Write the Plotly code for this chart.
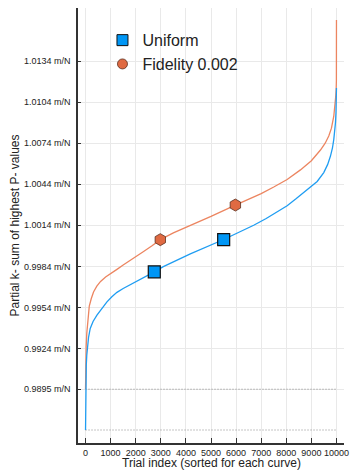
import plotly.graph_objects as go

# Sorted partial k-sums per trial (sampled along the sorted index)
uniform_idx = [0, 3, 8, 18, 30, 50, 70, 120, 187, 300, 455, 650, 854, 1050, 1252,
               1500, 1783, 2100, 2449, 2740, 3100, 3500, 4176, 5505, 6000, 6438,
               6701, 7200, 7766, 8034, 8400, 8831, 9231, 9494, 9650, 9761, 9840,
               9893, 9935, 9960, 9980, 9993, 10000]
uniform_val = [0.98644, 0.98850, 0.98950, 0.99050, 0.99120, 0.99190, 0.99240,
               0.99320, 0.99386, 0.99437, 0.99483, 0.99535, 0.99580, 0.99618,
               0.99650, 0.99678, 0.99705, 0.99735, 0.99768, 0.99800, 0.99838,
               0.99872, 0.99931, 1.00036, 1.00078, 1.00115, 1.00140, 1.00190,
               1.00250, 1.00283, 1.00335, 1.00400, 1.00460, 1.00525, 1.00585,
               1.00646, 1.00705, 1.00768, 1.00830, 1.00889, 1.00960, 1.01050,
               1.01144]

fidelity_idx = [0, 3, 10, 25, 50, 90, 150, 230, 319, 450, 600, 800, 1000, 1252,
                1500, 1783, 2050, 2314, 2650, 2980, 3500, 4176, 5000, 5971, 6500,
                7000, 7500, 8034, 8564, 9000, 9362, 9550, 9693, 9800, 9893, 9940,
                9970, 9987, 9997, 10000]
fidelity_val = [0.98942, 0.99050, 0.99150, 0.99250, 0.99350, 0.99450, 0.99550,
                0.99605, 0.99653, 0.99695, 0.99730, 0.99762, 0.99785, 0.99818,
                0.99850, 0.99882, 0.99915, 0.99948, 0.99990, 1.00035, 1.00085,
                1.00137, 1.00205, 1.00288, 1.00330, 1.00372, 1.00420, 1.00475,
                1.00545, 1.00612, 1.00690, 1.00740, 1.00792, 1.00850, 1.00937,
                1.01010, 1.01080, 1.01131, 1.01200, 1.01640]

# Highlighted trials on each curve
uniform_mark_idx = [2740, 5505]
uniform_mark_val = [0.99800, 1.00036]
fidelity_mark_idx = [2980, 5971]
fidelity_mark_val = [1.00035, 1.00288]

# Minimum of each curve (dotted reference lines)
min_levels = [0.98942, 0.98644]

y_tickvals = [0.98942, 0.9924, 0.9954, 0.9984, 1.0014, 1.0044, 1.0074, 1.0104, 1.0134]
y_ticktext = ["0.9895 m/N", "0.9924 m/N", "0.9954 m/N", "0.9984 m/N", "1.0014 m/N",
              "1.0044 m/N", "1.0074 m/N", "1.0104 m/N", "1.0134 m/N"]
x_tickvals = list(range(0, 10001, 1000))
x_ticktext = [str(v) for v in x_tickvals]

BLUE_LINE = "#1f9df2"
BLUE_MARK = "#0096f5"
ORANGE_LINE = "#ec8560"
ORANGE_MARK = "#e06a42"
FONT = "Liberation Sans, Arial, sans-serif"

fig = go.Figure()

for lvl in min_levels:
    fig.add_trace(go.Scatter(
        x=[0, 10000], y=[lvl, lvl], mode="lines",
        line=dict(color="#8a8a8a", width=1, dash="1px,2px"),
        showlegend=False, hoverinfo="skip"))

fig.add_trace(go.Scatter(
    x=fidelity_idx, y=fidelity_val, mode="lines",
    line=dict(color=ORANGE_LINE, width=1.3), showlegend=False))
fig.add_trace(go.Scatter(
    x=uniform_idx, y=uniform_val, mode="lines",
    line=dict(color=BLUE_LINE, width=1.3), showlegend=False))

fig.add_trace(go.Scatter(
    x=uniform_mark_idx, y=uniform_mark_val, mode="markers",
    marker=dict(symbol="square", size=12, color=BLUE_MARK,
                line=dict(color="#111111", width=1.2)),
    showlegend=False))
fig.add_trace(go.Scatter(
    x=fidelity_mark_idx, y=fidelity_mark_val, mode="markers",
    marker=dict(symbol="hexagon", size=12, color=ORANGE_MARK,
                line=dict(color="#5a3020", width=0.8)),
    showlegend=False))

# Legend entries
fig.add_trace(go.Scatter(
    x=[None], y=[None], mode="markers", name="Uniform",
    marker=dict(symbol="square", size=11, color=BLUE_MARK,
                line=dict(color="#111111", width=1))))
fig.add_trace(go.Scatter(
    x=[None], y=[None], mode="markers", name="Fidelity 0.002",
    marker=dict(symbol="circle", size=10, color=ORANGE_MARK,
                line=dict(color="#5a3020", width=0.8))))

fig.update_layout(
    width=350, height=473,
    margin=dict(l=78, r=6, t=8, b=30),
    paper_bgcolor="white", plot_bgcolor="white",
    font=dict(family=FONT, size=9, color="#222222"),
    legend=dict(x=0.092, y=0.965, xanchor="left", yanchor="top",
                bgcolor="rgba(0,0,0,0)", font=dict(size=16, color="#222222"),
                itemsizing="trace", tracegroupgap=0),
    annotations=[dict(
        text="Trial index (sorted for each curve)", xref="paper", yref="paper",
        x=0.5, y=0, xanchor="center", yanchor="bottom", yshift=-29,
        showarrow=False, font=dict(size=12, color="#222222"))],
)

fig.update_xaxes(
    range=[-300, 10300], tickvals=x_tickvals, ticktext=x_ticktext,
    ticks="inside", ticklen=5, tickcolor="#333333", tickwidth=1,
    showline=True, linecolor="#333333", linewidth=1.5,
    showgrid=True, gridcolor="#e9e9e9", gridwidth=1, zeroline=False,
    tickfont=dict(size=9), ticklabelstandoff=0, automargin=False,
)
fig.update_yaxes(
    range=[0.98549, 1.01728], tickvals=y_tickvals, ticktext=y_ticktext,
    ticks="inside", ticklen=3, tickcolor="#333333", tickwidth=1,
    showline=True, linecolor="#333333", linewidth=1.5,
    showgrid=True, gridcolor="#e9e9e9", gridwidth=1, zeroline=False,
    tickfont=dict(size=9), ticklabelstandoff=4, automargin=False,
    title=dict(text="Partial k- sum of highest P- values", font=dict(size=12), standoff=2),
)

fig.write_html("out.html")
